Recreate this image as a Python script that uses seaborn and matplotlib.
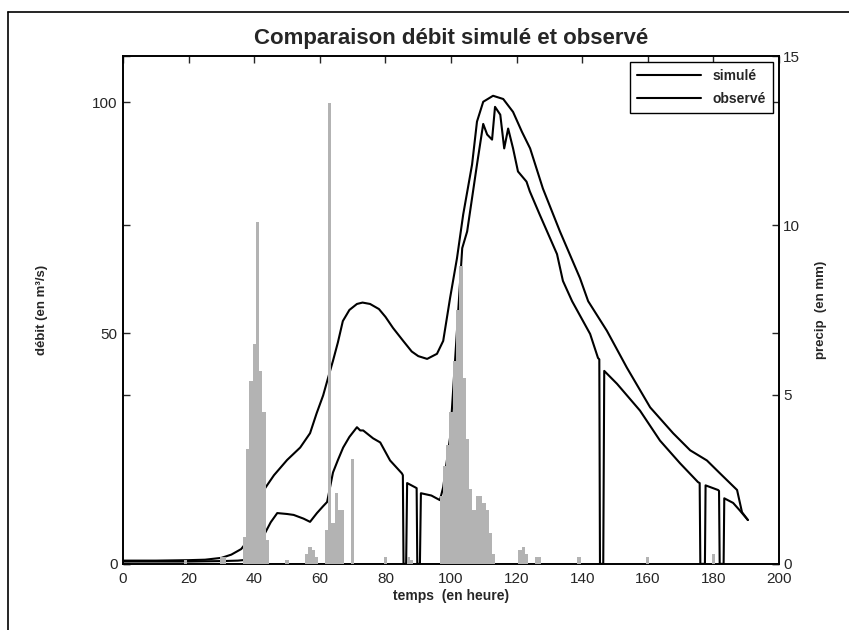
import matplotlib
matplotlib.use("Agg")
import matplotlib.pyplot as plt
import seaborn as sns
import pandas as pd
from matplotlib.lines import Line2D

# simulated discharge (m3/s)
sim_t = [0, 10, 20, 25, 30, 33, 36, 38, 40, 42, 43.3, 46, 50, 54, 57, 59, 61, 62.5,
         64, 65.5, 67, 69, 71.3, 73, 75.3, 78, 80, 82.3, 85.4, 88, 90, 92.7, 95.7,
         97.6, 99.7, 101.8, 103.7, 106.4, 107.9, 109.8, 112.8, 115.9, 118.9, 121.6,
         124.1, 128, 133.2, 139.3, 141.8, 147.5, 153.6, 160.7, 167.7, 172.9, 178,
         182, 187.2, 188.7, 190.5]
sim_q = [0.7, 0.7, 0.8, 0.9, 1.3, 2.0, 3.2, 5.0, 8.5, 13, 16.4, 19.2, 22.5, 25.2,
         28.3, 32.6, 36.5, 40.3, 44, 48, 52.6, 55, 56.3, 56.6, 56.3, 55.2, 53.5,
         51.1, 48.3, 46, 45.0, 44.4, 45.5, 48.3, 57.6, 66.2, 75.7, 86.5, 95.8, 100.1,
         101.4, 100.7, 97.9, 93.6, 90, 81.3, 72, 61.9, 56.9, 50.5, 42.5, 33.9, 28.3,
         24.6, 22.4, 19.6, 16, 11.2, 9.5]

# observed discharge (m3/s), drops to 0 where data is missing
obs_t = [0, 10, 20, 30, 35, 38, 40, 43.3, 45, 47, 50, 52, 55, 57, 59.1, 61, 62.2,
         64, 65.5, 67.1, 69, 71.3, 72.3, 73.2, 76.2, 78.4, 81.4, 85, 85.3, 85.5,
         86.3, 86.6, 89, 89.5, 89.7, 90.5, 90.8, 94, 96.6, 97.6, 99.7, 101.8, 103.4,
         104.9, 107.9, 109.8, 111, 112.5, 113.4, 115, 116.2, 117.4, 118.9, 120.4, 123,
         124, 127, 132.3, 134.1, 136.9, 142.4, 144.8, 145.2, 145.4, 146.4, 146.7,
         150.6, 157.6, 163.7, 169.8, 175.3, 175.8, 176.0, 177.4, 177.6, 181.4, 181.7,
         181.9, 183.1, 183.3, 186, 188, 190.5]
obs_q = [0.5, 0.5, 0.5, 0.6, 0.7, 0.9, 2, 6.7, 9, 11, 10.8, 10.6, 9.8, 9.1, 11,
         12.5, 13.4, 19.8, 22.5, 25.2, 27.5, 29.6, 28.9, 28.9, 27.2, 26.3, 22.4,
         19.6, 19.2, 0, 0, 17.5, 16.6, 16.4, 0, 0, 15.3, 14.8, 13.8, 16.6, 27.4,
         50.5, 68.4, 72, 86.5, 95.3, 93, 91.9, 99, 97.3, 90, 94.3, 90, 85, 82.8,
         80.7, 75.7, 67.1, 61.3, 56.9, 49.8, 44.6, 44.3, 0, 0, 41.8, 39, 33.2, 26.7,
         21.8, 17.7, 17.5, 0, 0, 17, 16, 15.8, 0, 0, 14.2, 13.2, 11.6, 9.5]

# precipitation (mm), hourly
precip_t = [19, 30, 31, 37, 38, 39, 40, 41, 42, 43, 44, 50, 56, 57, 58, 59, 62, 63,
            64, 65, 66, 67, 70, 80, 87, 88, 97, 98, 99, 100, 101, 102, 103, 104, 105,
            106, 107, 108, 109, 110, 111, 112, 113, 121, 122, 123, 126, 127, 139,
            160, 180]
precip_mm = [0.1, 0.2, 0.2, 0.8, 3.4, 5.4, 6.5, 10.1, 5.7, 4.5, 0.7, 0.1, 0.3, 0.5,
             0.4, 0.2, 1.0, 13.6, 1.2, 2.1, 1.6, 1.6, 3.1, 0.2, 0.2, 0.1, 2.0, 2.9,
             3.5, 4.5, 6.0, 7.5, 8.8, 5.5, 3.7, 2.2, 1.6, 2.0, 2.0, 1.8, 1.6, 0.9,
             0.3, 0.4, 0.5, 0.3, 0.2, 0.2, 0.2, 0.2, 0.3]

sns.set_style("white")
plt.rcParams["font.family"] = ["Liberation Sans", "DejaVu Sans"]

df_sim = pd.DataFrame({"t": sim_t, "q": sim_q})
df_obs = pd.DataFrame({"t": obs_t, "q": obs_q})

fig, ax = plt.subplots(figsize=(8.49, 6.30), dpi=100)
fig.subplots_adjust(left=0.145, right=0.9176, top=0.911, bottom=0.105)

sns.lineplot(data=df_sim, x="t", y="q", ax=ax, color="black", linewidth=1.5,
             estimator=None, sort=False)
sns.lineplot(data=df_obs, x="t", y="q", ax=ax, color="black", linewidth=1.5,
             estimator=None, sort=False)
ax.set_xlim(0, 200)
ax.set_ylim(0, 110)
ax.set_xticks(range(0, 201, 20))
ax.set_yticks([0, 50, 100])
ax.set_xlabel("temps  (en heure)", fontsize=10, fontweight="bold", labelpad=2)
ax.set_ylabel("débit (en m³/s)", fontsize=9.5, fontweight="bold")
ax.yaxis.set_label_coords(-0.115, 0.5)
ax.set_title("Comparaison débit simulé et observé", fontsize=16,
             fontweight="bold", pad=9)

ax2 = ax.twinx()
ax2.bar(precip_t, precip_mm, width=1.0, color="#b3b3b3", linewidth=0, zorder=3)
ax2.set_ylim(0, 15)
ax2.set_yticks([0, 5, 10, 15])
ax2.set_ylabel("precip  (en mm)", fontsize=9.5, fontweight="bold")
ax2.yaxis.set_label_coords(1.055, 0.5)

for a in (ax, ax2):
    for s in a.spines.values():
        s.set_color("black")
        s.set_linewidth(1.2)
ax.tick_params(axis="both", direction="in", length=5, width=1, labelsize=11,
               top=True, right=True, labelright=False)
ax.tick_params(axis="x", pad=6)
ax.tick_params(axis="y", pad=4)
ax2.tick_params(axis="y", direction="in", length=5, width=1, labelsize=11,
                left=True, right=True, labelleft=False, pad=3)

handles = [Line2D([], [], color="black", linewidth=1.5),
           Line2D([], [], color="black", linewidth=1.5)]
leg = ax2.legend(handles, ["simulé", "observé"], loc="upper right",
                 frameon=True, fancybox=False, framealpha=1,
                 edgecolor="black", handlelength=4.6, borderpad=0.55,
                 labelspacing=0.6, borderaxespad=0.4,
                 prop={"weight": "bold", "size": 10})
leg.get_frame().set_linewidth(1.0)

# scanned page border
fig.add_artist(plt.Line2D([8 / 849, 1.0], [1 - 12 / 630, 1 - 12 / 630],
                          transform=fig.transFigure, color="black", linewidth=1.2))
fig.add_artist(plt.Line2D([8 / 849, 8 / 849], [0, 1 - 12 / 630],
                          transform=fig.transFigure, color="black", linewidth=1.2))

fig.savefig("out.png", dpi=100)
